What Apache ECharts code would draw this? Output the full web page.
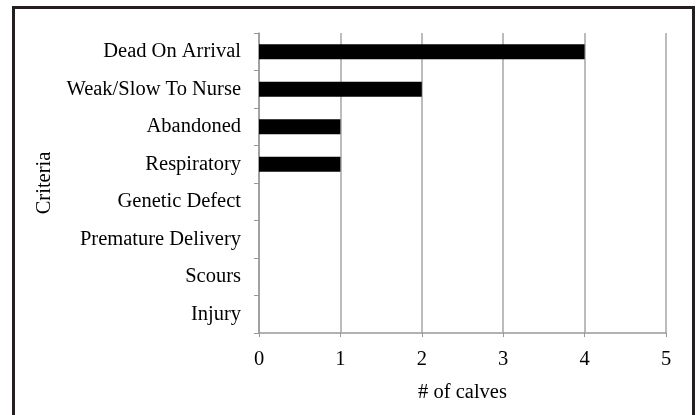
<!DOCTYPE html>
<html>
<head>
<meta charset="utf-8">
<script src="https://cdn.jsdelivr.net/npm/echarts@6/dist/echarts.min.js"></script>
<style>
  html, body { margin:0; padding:0; background:#fff; overflow:hidden; }
  #frame { position:absolute; left:12px; top:6px; width:677px; height:420px; border:3px solid #231f20; box-sizing:content-box; }
  #chart { position:absolute; left:0; top:0; width:697px; height:415px; }
</style>
</head>
<body>
<div id="frame"></div>
<div id="chart"></div>
<script>
// categories top to bottom as printed
var criteria = ['Dead On Arrival', 'Weak/Slow To Nurse', 'Abandoned', 'Respiratory',
                'Genetic Defect', 'Premature Delivery', 'Scours', 'Injury'];
var calves = [4, 2, 1, 1, 0, 0, 0, 0];
var xTicks = [0, 1, 2, 3, 4, 5];

var serif = '"Liberation Serif", "Times New Roman", serif';
var myChart = echarts.init(document.getElementById('chart'));
var option = {
  animation: false,
  grid: { left: 259, right: 31, top: 33, bottom: 82, containLabel: false },
  xAxis: {
    type: 'value',
    min: xTicks[0], max: xTicks[xTicks.length - 1], interval: 1,
    name: '# of calves', nameLocation: 'middle', nameGap: 49,
    nameTextStyle: { fontFamily: serif, fontSize: 20.5, color: '#000' },
    axisLine: { show: true, lineStyle: { color: '#999', width: 1.5 } },
    axisTick: { show: true, length: 4, lineStyle: { color: '#999' } },
    axisLabel: { fontFamily: serif, fontSize: 20.5, color: '#000', margin: 16 },
    splitLine: { show: true, lineStyle: { color: '#a6a6a6', width: 1.5 } }
  },
  yAxis: {
    type: 'category',
    inverse: true,
    data: criteria,
    name: 'Criteria', nameLocation: 'middle', nameGap: 204, nameRotate: 90,
    nameTextStyle: { fontFamily: serif, fontSize: 20.5, color: '#000' },
    axisLine: { show: true, lineStyle: { color: '#999', width: 1.5 } },
    axisTick: { show: true, inside: false, length: 5, lineStyle: { color: '#999' } },
    axisLabel: { fontFamily: serif, fontSize: 20.5, color: '#000', margin: 18 },
    splitLine: { show: false }
  },
  series: [{
    type: 'bar',
    data: calves,
    barWidth: 15,
    itemStyle: { color: '#000' }
  }]
};
myChart.setOption(option);
</script>
</body>
</html>
